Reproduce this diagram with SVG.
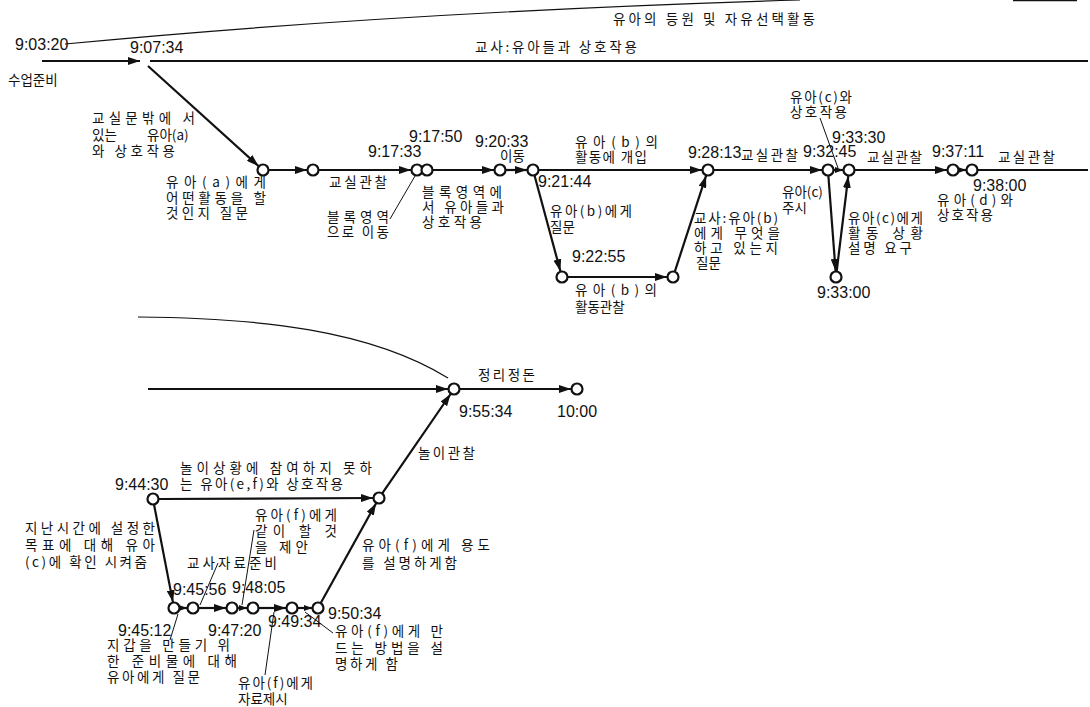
<svg xmlns="http://www.w3.org/2000/svg" width="1090" height="707" viewBox="0 0 1090 707">
<style>
.bg{fill:#fff}
.nd{fill:#fff;stroke:#111;stroke-width:2.2}
.ln{fill:none;stroke:#111;stroke-width:2.2}
.th{fill:none;stroke:#111;stroke-width:1.2}
.ld{fill:none;stroke:#111;stroke-width:1}
.t{font-family:"Liberation Sans",Arial,sans-serif;font-size:16px;fill:#111}
.k{font-family:"Noto Sans CJK KR","Noto Sans",sans-serif;font-size:13.5px;fill:#111}
</style>
<defs>
<marker id="ah" viewBox="0 0 12 8" refX="12" refY="4" markerWidth="12" markerHeight="8" orient="auto" markerUnits="userSpaceOnUse"><path d="M0,0 L12,4 L0,8 z" fill="#111"/></marker>
<marker id="as" viewBox="0 0 8 6" refX="8" refY="3" markerWidth="8" markerHeight="6" orient="auto" markerUnits="userSpaceOnUse"><path d="M0,0 L8,3 L0,6 z" fill="#111"/></marker>
</defs>
<rect class="bg" x="0" y="0" width="1090" height="707"/>

<g id="connectors">
<path class="th" d="M65,44 Q400,12 800,0"/>
<line class="ln" x1="1013" y1="0.5" x2="1077" y2="0.5" style="stroke-width:1.6"/>
<line class="ln" x1="42" y1="61" x2="140" y2="61" marker-end="url(#ah)"/>
<line class="ln" x1="150" y1="61" x2="1088" y2="61"/>
<line class="ln" x1="148" y1="66" x2="258.5" y2="166" marker-end="url(#ah)"/>
<line class="ln" x1="269" y1="170" x2="307" y2="170" marker-end="url(#ah)"/>
<line class="ln" x1="319" y1="170" x2="411" y2="170" marker-end="url(#ah)"/>
<line class="ld" x1="390" y1="219" x2="415" y2="176"/>
<line class="ln" x1="433" y1="170" x2="494" y2="170" marker-end="url(#ah)"/>
<line class="ln" x1="506" y1="170" x2="527" y2="170" marker-end="url(#ah)"/>
<line class="ln" x1="539" y1="170" x2="702" y2="170" marker-end="url(#ah)"/>
<line class="ln" x1="534.6" y1="175.8" x2="560.4" y2="271.2" marker-end="url(#ah)"/>
<line class="ln" x1="568" y1="277" x2="667" y2="277" marker-end="url(#ah)"/>
<line class="ln" x1="674.9" y1="271.3" x2="706.1" y2="175.7" marker-end="url(#ah)"/>
<line class="ln" x1="714" y1="170" x2="822" y2="170" marker-end="url(#ah)"/>
<line class="ld" x1="820" y1="118" x2="838" y2="168"/>
<line class="ln" x1="834" y1="170" x2="843" y2="170" marker-end="url(#as)"/>
<line class="ln" x1="828.4" y1="176" x2="835.6" y2="271" marker-end="url(#ah)"/>
<line class="ln" x1="836.7" y1="271" x2="848.3" y2="176" marker-end="url(#ah)"/>
<line class="ln" x1="855" y1="170" x2="947" y2="170" marker-end="url(#ah)"/>
<line class="ln" x1="959" y1="170" x2="966" y2="170" marker-end="url(#as)"/>
<line class="ln" x1="978" y1="170" x2="1088" y2="170"/>

<path class="th" d="M138,317 C260,318 370,330 448,378"/>
<line class="ln" x1="148" y1="389" x2="448" y2="389" marker-end="url(#ah)"/>
<line class="ln" x1="460" y1="389" x2="571" y2="389" marker-end="url(#ah)"/>
<line class="ln" x1="382.4" y1="493.1" x2="450.6" y2="394" marker-end="url(#ah)"/>
<line class="ln" x1="159" y1="499" x2="373" y2="498" marker-end="url(#ah)"/>
<line class="ln" x1="154.1" y1="504.9" x2="172.9" y2="602.1" marker-end="url(#ah)"/>
<line class="ln" x1="180" y1="608" x2="187" y2="608" marker-end="url(#as)"/>
<line class="ln" x1="199" y1="608" x2="226" y2="608" marker-end="url(#ah)"/>
<line class="ln" x1="238" y1="608" x2="247" y2="608" marker-end="url(#as)"/>
<line class="ln" x1="259" y1="608" x2="286" y2="608" marker-end="url(#ah)"/>
<line class="ln" x1="298" y1="608" x2="312" y2="608" marker-end="url(#as)"/>
<line class="ln" x1="320.9" y1="602.8" x2="376.1" y2="503.2" marker-end="url(#ah)"/>
<line class="ld" x1="218" y1="563" x2="200" y2="605"/>
<line class="ld" x1="254" y1="530" x2="242" y2="605"/>
<line class="ld" x1="178" y1="614" x2="170" y2="640"/>
<line class="ld" x1="265" y1="675" x2="274" y2="612"/>
<line class="ld" x1="333" y1="633" x2="305" y2="612"/>
</g>

<g id="n-start"><text class="t" x="15" y="50">9:03:20</text><text class="k" x="8" y="85">수업준비</text></g>
<g id="n-0907"><text class="t" x="130" y="53">9:07:34</text></g>
<g id="n1"><circle class="nd" cx="263" cy="170" r="5.5"/></g>
<g id="n2"><circle class="nd" cx="313" cy="170" r="5.5"/></g>
<g id="n3"><circle class="nd" cx="417" cy="170" r="5.5"/><text class="t" x="368" y="157">9:17:33</text></g>
<g id="n4"><circle class="nd" cx="427" cy="170" r="5.5"/><text class="t" x="409" y="142">9:17:50</text></g>
<g id="n5"><circle class="nd" cx="500" cy="170" r="5.5"/><text class="t" x="475" y="147">9:20:33</text></g>
<g id="n6"><circle class="nd" cx="533" cy="170" r="5.5"/><text class="t" x="538" y="187">9:21:44</text></g>
<g id="n7"><circle class="nd" cx="562" cy="277" r="5.5"/><text class="t" x="572" y="262">9:22:55</text></g>
<g id="n8"><circle class="nd" cx="673" cy="277" r="5.5"/></g>
<g id="n9"><circle class="nd" cx="708" cy="170" r="5.5"/><text class="t" x="688" y="158">9:28:13</text></g>
<g id="n10"><circle class="nd" cx="828" cy="170" r="5.5"/><text class="t" x="803" y="157">9:32:45</text></g>
<g id="n11"><circle class="nd" cx="849" cy="170" r="5.5"/><text class="t" x="832" y="143">9:33:30</text></g>
<g id="n12"><circle class="nd" cx="836" cy="277" r="5.5"/><text class="t" x="817" y="298">9:33:00</text></g>
<g id="n13"><circle class="nd" cx="953" cy="170" r="5.5"/><text class="t" x="932" y="157">9:37:11</text></g>
<g id="n14"><circle class="nd" cx="972" cy="170" r="5.5"/><text class="t" x="973" y="191">9:38:00</text></g>

<g id="m1"><circle class="nd" cx="454" cy="389" r="5.5"/><text class="t" x="459" y="417">9:55:34</text></g>
<g id="m2"><circle class="nd" cx="577" cy="389" r="5.5"/><text class="t" x="557" y="417">10:00</text></g>
<g id="m3"><circle class="nd" cx="379" cy="498" r="5.5"/></g>
<g id="m4"><circle class="nd" cx="153" cy="499" r="5.5"/><text class="t" x="115" y="490">9:44:30</text></g>
<g id="m5"><circle class="nd" cx="174" cy="608" r="5.5"/><text class="t" x="118" y="636">9:45:12</text></g>
<g id="m6"><circle class="nd" cx="193" cy="608" r="5.5"/><text class="t" x="173" y="595">9:45:56</text></g>
<g id="m7"><circle class="nd" cx="232" cy="608" r="5.5"/><text class="t" x="208" y="636">9:47:20</text></g>
<g id="m8"><circle class="nd" cx="253" cy="608" r="5.5"/><text class="t" x="232" y="593">9:48:05</text></g>
<g id="m9"><circle class="nd" cx="292" cy="608" r="5.5"/><text class="t" x="268" y="627">9:49:34</text></g>
<g id="m10"><circle class="nd" cx="318" cy="608" r="5.5"/><text class="t" x="328" y="619">9:50:34</text></g>

<g id="labels">
<text class="k" x="613" y="24" textLength="202" lengthAdjust="spacing">유아의 등원 및 자유선택활동</text>
<text class="k" x="475" y="52" textLength="162" lengthAdjust="spacing">교사:유아들과 상호작용</text>
<text class="k" x="92" y="123" textLength="103" lengthAdjust="spacing">교실문밖에 서</text>
<text class="k" x="92" y="140">있는</text><text class="k" x="147" y="140">유아(a)</text>
<text class="k" x="92" y="156" textLength="83" lengthAdjust="spacing">와 상호작용</text>
<text class="k" x="166" y="187" textLength="100" lengthAdjust="spacing">유아(a)에게</text>
<text class="k" x="166" y="203" textLength="100" lengthAdjust="spacing">어떤활동을 할</text>
<text class="k" x="166" y="218" textLength="82" lengthAdjust="spacing">것인지 질문</text>
<text class="k" x="329" y="187" textLength="58" lengthAdjust="spacing">교실관찰</text>
<text class="k" x="327" y="222" textLength="62" lengthAdjust="spacing">블록영역</text>
<text class="k" x="327" y="237" textLength="62" lengthAdjust="spacing">으로 이동</text>
<text class="k" x="422" y="197" textLength="80" lengthAdjust="spacing">블록영역에</text>
<text class="k" x="422" y="212" textLength="82" lengthAdjust="spacing">서 유아들과</text>
<text class="k" x="422" y="227" textLength="60" lengthAdjust="spacing">상호작용</text>
<text class="k" x="500" y="161">이동</text>
<text class="k" x="575" y="147" textLength="83" lengthAdjust="spacing">유아(b)의</text>
<text class="k" x="575" y="162" textLength="72" lengthAdjust="spacing">활동에 개입</text>
<text class="k" x="550" y="216" textLength="82" lengthAdjust="spacing">유아(b)에게</text>
<text class="k" x="550" y="232">질문</text>
<text class="k" x="575" y="295" textLength="82" lengthAdjust="spacing">유아(b)의</text>
<text class="k" x="575" y="312">활동관찰</text>
<text class="k" x="741" y="160" textLength="57" lengthAdjust="spacing">교실관찰</text>
<text class="k" x="694" y="223" textLength="84" lengthAdjust="spacing">교사:유아(b)</text>
<text class="k" x="694" y="238" textLength="86" lengthAdjust="spacing">에게 무엇을</text>
<text class="k" x="694" y="253" textLength="84" lengthAdjust="spacing">하고 있는지</text>
<text class="k" x="696" y="268">질문</text>
<text class="k" x="790" y="102" textLength="62" lengthAdjust="spacing">유아(c)와</text>
<text class="k" x="790" y="117" textLength="57" lengthAdjust="spacing">상호작용</text>
<text class="k" x="782" y="197">유아(c)</text>
<text class="k" x="782" y="213">주시</text>
<text class="k" x="848" y="223" textLength="75" lengthAdjust="spacing">유아(c)에게</text>
<text class="k" x="848" y="238" textLength="75" lengthAdjust="spacing">활동 상황</text>
<text class="k" x="848" y="253" textLength="64" lengthAdjust="spacing">설명 요구</text>
<text class="k" x="867" y="162" textLength="55" lengthAdjust="spacing">교실관찰</text>
<text class="k" x="937" y="205" textLength="76" lengthAdjust="spacing">유아(d)와</text>
<text class="k" x="937" y="220" textLength="56" lengthAdjust="spacing">상호작용</text>
<text class="k" x="998" y="162" textLength="57" lengthAdjust="spacing">교실관찰</text>

<text class="k" x="478" y="380" textLength="57" lengthAdjust="spacing">정리정돈</text>
<text class="k" x="418" y="458" textLength="57" lengthAdjust="spacing">놀이관찰</text>
<text class="k" x="180" y="473" textLength="192" lengthAdjust="spacing">놀이상황에 참여하지 못하</text>
<text class="k" x="180" y="489" textLength="163" lengthAdjust="spacing">는 유아(e,f)와 상호작용</text>
<text class="k" x="25" y="533" textLength="130" lengthAdjust="spacing">지난시간에 설정한</text>
<text class="k" x="25" y="550" textLength="130" lengthAdjust="spacing">목표에 대해 유아</text>
<text class="k" x="25" y="567" textLength="122" lengthAdjust="spacing">(c)에 확인 시켜줌</text>
<text class="k" x="255" y="520" textLength="82" lengthAdjust="spacing">유아(f)에게</text>
<text class="k" x="255" y="536" textLength="82" lengthAdjust="spacing">같이 할 것</text>
<text class="k" x="255" y="552" textLength="53" lengthAdjust="spacing">을 제안</text>
<text class="k" x="187" y="568" textLength="90" lengthAdjust="spacing">교사자료준비</text>
<text class="k" x="107" y="650" textLength="123" lengthAdjust="spacing">지갑을 만들기 위</text>
<text class="k" x="107" y="666" textLength="130" lengthAdjust="spacing">한 준비물에 대해</text>
<text class="k" x="107" y="682" textLength="93" lengthAdjust="spacing">유아에게 질문</text>
<text class="k" x="238" y="688" textLength="75" lengthAdjust="spacing">유아(f)에게</text>
<text class="k" x="238" y="704">자료제시</text>
<text class="k" x="335" y="636" textLength="108" lengthAdjust="spacing">유아(f)에게 만</text>
<text class="k" x="335" y="653" textLength="108" lengthAdjust="spacing">드는 방법을 설</text>
<text class="k" x="335" y="669" textLength="63" lengthAdjust="spacing">명하게 함</text>
<text class="k" x="362" y="550" textLength="128" lengthAdjust="spacing">유아(f)에게 용도</text>
<text class="k" x="362" y="568" textLength="95" lengthAdjust="spacing">를 설명하게함</text>
</g>
</svg>
